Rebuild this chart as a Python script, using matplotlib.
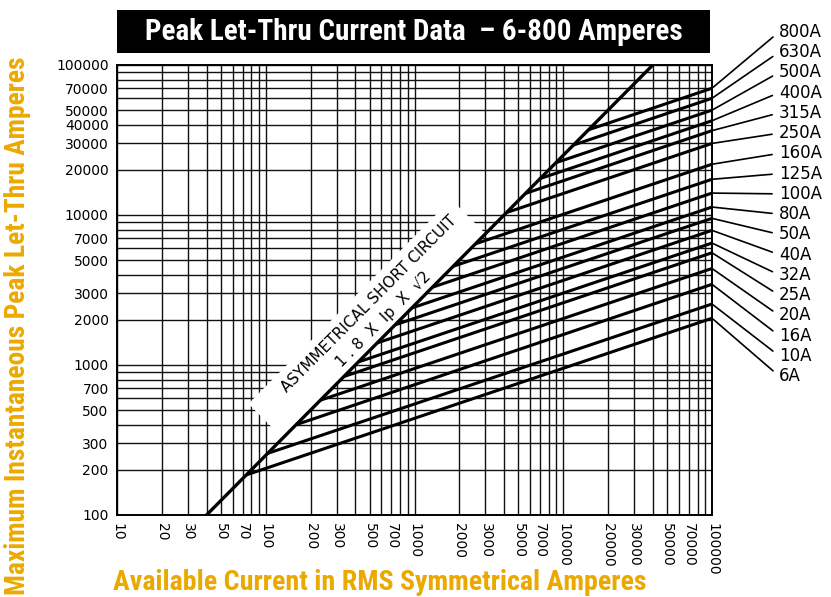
import numpy as np
import matplotlib
matplotlib.use('Agg')
import matplotlib.pyplot as plt
from matplotlib.patches import Rectangle
from matplotlib.ticker import FixedLocator, NullFormatter

# Fuse ratings as listed on the right, top to bottom
ratings = ['800A', '630A', '500A', '400A', '315A', '250A', '160A', '125A', '100A',
           '80A', '50A', '40A', '32A', '25A', '20A', '16A', '10A', '6A']
# available current where each fuse line leaves the asymmetrical line (A rms)
start_current = [14800, 11700, 8930, 7000, 5570, 4150, 2570, 1820, 1320,
                 960, 741, 561, 419, 335, 233, 160, 103, 74]
# peak let-thru at 100000 A available
end_peak = [70000, 60000, 50000, 42500, 36500, 30000, 21800, 17300, 14000,
            11300, 9500, 7900, 6500, 5600, 4400, 3450, 2550, 2050]

# asymmetrical short circuit line (1.8 x Ip x sqrt2)
asym_current = [40, 40000]
asym_peak = [100, 100000]

x_ticks = [10, 20, 30, 50, 70, 100, 200, 300, 500, 700, 1000, 2000, 3000, 5000, 7000,
           10000, 20000, 30000, 50000, 70000, 100000]
y_ticks = [100, 200, 300, 500, 700, 1000, 2000, 3000, 5000, 7000, 10000, 20000, 30000,
           40000, 50000, 70000, 100000]

orange = '#EBA900'
cond_font = ['Liberation Sans Narrow', 'Roboto Condensed', 'Open Sans Condensed', 'DejaVu Sans']

W, H = 831, 597
fig = plt.figure(figsize=(W / 100, H / 100), dpi=100)
ax = fig.add_axes([117 / W, (H - 515) / H, 595 / W, 450 / H])
ax.set_xscale('log')
ax.set_yscale('log')
ax.set_xlim(10, 100000)
ax.set_ylim(100, 100000)

# full log grid, labelled ticks as majors, the rest as minors
all_x = [m * 10 ** d for d in range(1, 5) for m in range(1, 10)] + [100000]
all_y = [m * 10 ** d for d in range(2, 5) for m in range(1, 10)] + [100000]
ax.xaxis.set_major_locator(FixedLocator(x_ticks))
ax.xaxis.set_minor_locator(FixedLocator([v for v in all_x if v not in x_ticks]))
ax.yaxis.set_major_locator(FixedLocator(y_ticks))
ax.yaxis.set_minor_locator(FixedLocator([v for v in all_y if v not in y_ticks]))
ax.set_xticklabels([str(v) for v in x_ticks], rotation=270, va='top', ha='center')
ax.set_yticklabels([str(v) for v in y_ticks])
ax.xaxis.set_minor_formatter(NullFormatter())
ax.yaxis.set_minor_formatter(NullFormatter())
ax.tick_params(which='both', length=0, labelsize=10, pad=6)
ax.grid(True, which='both', color='#111111', linewidth=1.0)
for s in ax.spines.values():
    s.set_linewidth(1.4)

# asymmetrical line and fuse curves
ax.plot(asym_current, asym_peak, color='black', linewidth=2.4, zorder=3)
k = asym_peak[0] / asym_current[0]
for x0, yend in zip(start_current, end_peak):
    ax.plot([x0, 100000], [x0 * k, yend], color='black', linewidth=2.2,
            solid_capstyle='butt', zorder=3)

# white band above the asymmetrical line that hides the grid behind its label
xa, xb, s = 130, 3000, 10 ** 0.23
ax.fill([xa, xb, xb / s, xa / s], [xa * k, xb * k, xb * k * s, xa * k * s],
        color='white', lw=0, zorder=1.6)
ax.text(0.436, 0.452, 'ASYMMETRICAL SHORT CIRCUIT\n1 . 8  X  Ip  X  \u221a2',
        transform=ax.transAxes, rotation=45.2, rotation_mode='anchor',
        ha='center', va='center', multialignment='center', fontsize=11,
        linespacing=1.5, zorder=3)

# rating labels with leader lines
label_y = np.linspace(32, 376, len(ratings))
for name, yend, ly in zip(ratings, end_peak, label_y):
    ax.annotate(name, xy=(100000, yend), xycoords='data',
                xytext=(779, H - ly), textcoords='figure pixels',
                ha='left', va='center', fontsize=12, annotation_clip=False,
                arrowprops=dict(arrowstyle='-', color='black', lw=1.2,
                                shrinkA=3, shrinkB=0, relpos=(0, 0.5)))

# title bar
fig.add_artist(Rectangle((117 / W, (H - 53) / H), 593 / W, 43 / H,
                         transform=fig.transFigure, facecolor='black', edgecolor='none'))
fig.text(414 / W, (H - 32) / H, 'Peak Let-Thru Current Data  \u2013 6-800 Amperes',
         color='white', ha='center', va='center', fontsize=21, fontweight='bold',
         fontstretch='condensed', family=cond_font)

# axis titles
fig.text(18 / W, (H - 326) / H, 'Maximum Instantaneous Peak Let-Thru Amperes',
         color=orange, rotation=90, ha='center', va='center', fontsize=19.8,
         fontweight='bold', fontstretch='condensed', family=cond_font)
fig.text(380 / W, (H - 582) / H, 'Available Current in RMS Symmetrical Amperes',
         color=orange, ha='center', va='center', fontsize=20.2,
         fontweight='bold', fontstretch='condensed', family=cond_font)

fig.savefig('out.png', dpi=100)
